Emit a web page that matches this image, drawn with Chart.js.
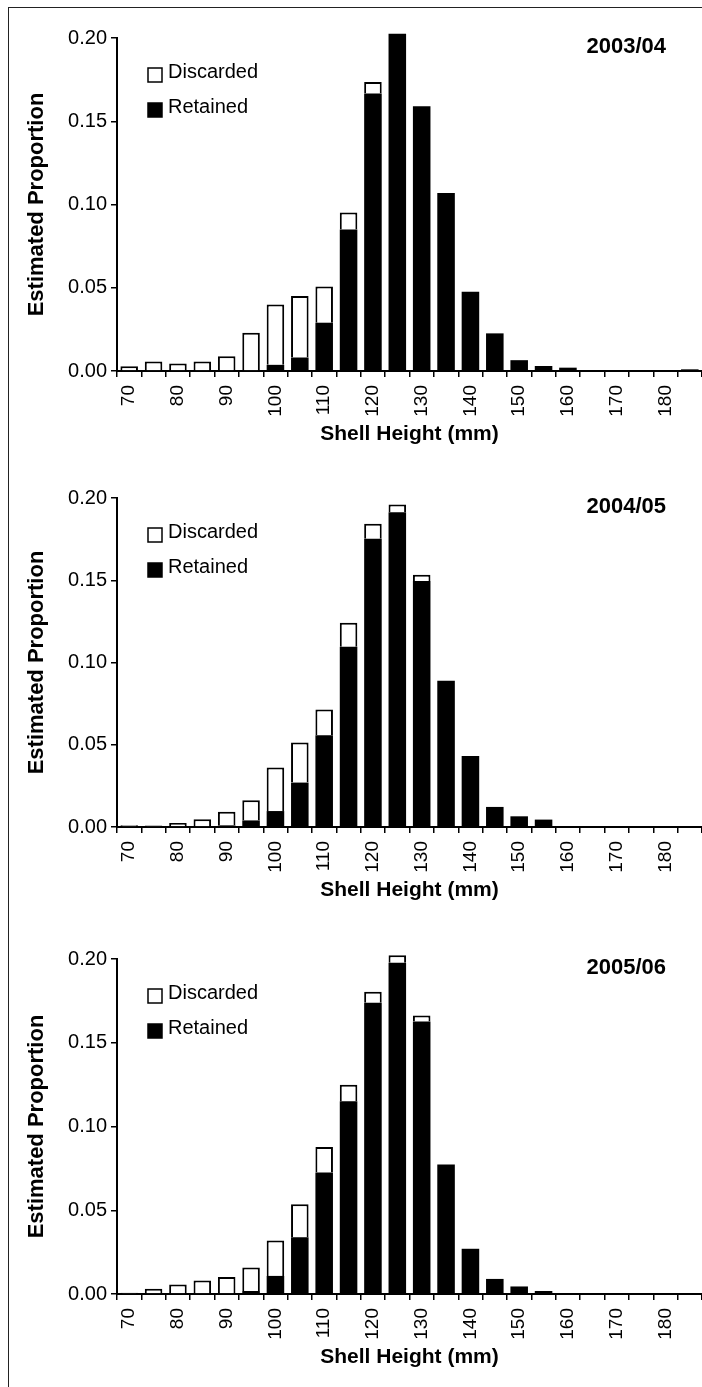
<!DOCTYPE html>
<html>
<head>
<meta charset="utf-8">
<script src="https://cdn.jsdelivr.net/npm/chart.js@4.4.0/dist/chart.umd.min.js"></script>
<style>
  html, body { margin: 0; padding: 0; background: #fff; overflow: hidden; }
  #page { position: relative; width: 702px; height: 1387px; }
  #frame { position: absolute; left: 8px; top: 7px; width: 710px; height: 1400px;
           border-left: 1.5px solid #222; border-top: 1.5px solid #222; }
  canvas { position: absolute; left: 0; }
</style>
</head>
<body>
<div id="page">
  <div id="frame"></div>
  <canvas id="chart1" width="702" height="443" style="top:18px"></canvas>
  <canvas id="chart2" width="702" height="439" style="top:478px"></canvas>
  <canvas id="chart3" width="702" height="445" style="top:939px"></canvas>
</div>
<script>
// shell height bins (mm)
var shellHeights = ['70', '75', '80', '85', '90', '95', '100', '105', '110', '115', '120', '125',
                    '130', '135', '140', '145', '150', '155', '160', '165', '170', '175', '180', '185'];
var xTickLabels = ['70', '', '80', '', '90', '', '100', '', '110', '', '120', '',
                   '130', '', '140', '', '150', '', '160', '', '170', '', '180', ''];
var yTickLabels = ['0.00', '0.05', '0.10', '0.15', '0.20'];
var seasons = ['2003/04', '2004/05', '2005/06'];

// 2003/04
var retained0304 = [0, 0, 0, 0, 0, 0, 0.0037, 0.0081, 0.029, 0.085, 0.1666, 0.2026,
                    0.159, 0.1069, 0.0476, 0.0226, 0.0065, 0.003, 0.002, 0.0005, 0.0005, 0.0005, 0.0005, 0.001];
var discarded0304 = [0.0028, 0.0057, 0.0045, 0.0057, 0.0089, 0.023, 0.0363, 0.0369, 0.0218, 0.0102, 0.007, 0,
                     0, 0, 0, 0, 0, 0, 0, 0, 0, 0, 0, 0];

// 2004/05
var retained0405 = [0, 0, 0, 0, 0.001, 0.004, 0.0097, 0.027, 0.0558, 0.1096, 0.1753, 0.1913,
                    0.1496, 0.0889, 0.0432, 0.0122, 0.0065, 0.0045, 0, 0, 0, 0, 0, 0];
var discarded0405 = [0.001, 0.0009, 0.0024, 0.0047, 0.0082, 0.0123, 0.0265, 0.0243, 0.0157, 0.0146, 0.0091, 0.0047,
                     0.0037, 0, 0, 0, 0, 0, 0, 0, 0, 0, 0, 0];

// 2005/06
var retained0506 = [0, 0, 0, 0, 0, 0.0018, 0.0108, 0.0339, 0.0726, 0.1151, 0.1739, 0.1978,
                    0.1627, 0.0773, 0.027, 0.009, 0.0045, 0.0018, 0.0003, 0.0003, 0.0003, 0.0003, 0.0003, 0.0003];
var discarded0506 = [0.0008, 0.0032, 0.0057, 0.008, 0.0102, 0.014, 0.0211, 0.0197, 0.0152, 0.0099, 0.0066, 0.0044,
                     0.0035, 0, 0, 0, 0, 0, 0, 0, 0, 0, 0, 0];

Chart.defaults.font.family = "'Liberation Sans', Arial, sans-serif";
Chart.defaults.color = '#000';

// legend box + season label drawn inside the plot
var panelText = {
    id: 'panelText',
    afterDraw: function (chart) {
        var ctx = chart.ctx;
        var area = chart.chartArea;
        var opts = chart.options.plugins.panelText;
        ctx.save();
        ctx.font = 'bold 22px ' + Chart.defaults.font.family;
        ctx.fillStyle = '#000';
        ctx.textAlign = 'right';
        ctx.textBaseline = 'middle';
        ctx.fillText(opts.season, 666, area.top + 9);

        var sets = chart.data.datasets.slice().reverse();
        ctx.font = '20px ' + Chart.defaults.font.family;
        ctx.textAlign = 'left';
        sets.forEach(function (ds, i) {
            var cy = area.top + 37 + i * 35;
            ctx.fillStyle = ds.backgroundColor;
            ctx.fillRect(148, cy - 7, 14, 14);
            ctx.strokeStyle = '#000';
            ctx.lineWidth = 1.5;
            ctx.strokeRect(148, cy - 7, 14, 14);
            ctx.fillStyle = '#000';
            ctx.fillText(ds.label, 168, cy - 3);
        });
        ctx.restore();
    }
};

function makeChart(id, season, retained, discarded) {
    var ctx = document.getElementById(id).getContext('2d');
    return new Chart(ctx, {
        type: 'bar',
        data: {
            labels: shellHeights,
            datasets: [{
                label: 'Retained',
                data: retained.map(function (v) { return v || null; }),
                backgroundColor: '#000',
                borderColor: '#000',
                borderWidth: 0,
                clip: false
            }, {
                label: 'Discarded',
                data: discarded.map(function (v) { return v || null; }),
                backgroundColor: '#fff',
                borderColor: '#000',
                borderWidth: 2,
                clip: false
            }]
        },
        options: {
            responsive: false,
            animation: false,
            layout: { padding: { top: 20, left: 0, right: 0, bottom: 0 } },
            datasets: { bar: { categoryPercentage: 1, barPercentage: 0.72 } },
            scales: {
                x: {
                    stacked: true,
                    grid: { offset: true, drawOnChartArea: false, drawTicks: true, tickLength: 6, color: '#000', lineWidth: 1.5 },
                    border: { display: true, color: '#000', width: 2 },
                    ticks: {
                        autoSkip: false, minRotation: 90, maxRotation: 90, padding: 8,
                        font: { size: 19 },
                        callback: function (value, index) { return xTickLabels[index]; }
                    },
                    title: { display: true, text: 'Shell Height (mm)', font: { size: 21, weight: 'bold' },
                             padding: { top: 0, bottom: 14 } },
                    afterFit: function (scale) { scale.height = 90; scale.paddingLeft = 0; scale.paddingRight = 0; }
                },
                y: {
                    stacked: true,
                    min: 0, max: 0.2,
                    grid: { drawOnChartArea: false, drawTicks: true, tickLength: 6, color: '#000', lineWidth: 1.5 },
                    border: { display: true, color: '#000', width: 2 },
                    ticks: {
                        stepSize: 0.05, padding: 4, font: { size: 20 },
                        callback: function (value, index) { return yTickLabels[index]; }
                    },
                    title: { display: true, text: 'Estimated Proportion', font: { size: 22, weight: 'bold' },
                             padding: { top: 24, bottom: 0 } },
                    afterFit: function (scale) { scale.width = 117; }
                }
            },
            plugins: {
                legend: { display: false },
                tooltip: { enabled: false },
                panelText: { season: season }
            }
        },
        plugins: [panelText]
    });
}

makeChart('chart1', seasons[0], retained0304, discarded0304);
makeChart('chart2', seasons[1], retained0405, discarded0405);
makeChart('chart3', seasons[2], retained0506, discarded0506);
</script>
</body>
</html>
